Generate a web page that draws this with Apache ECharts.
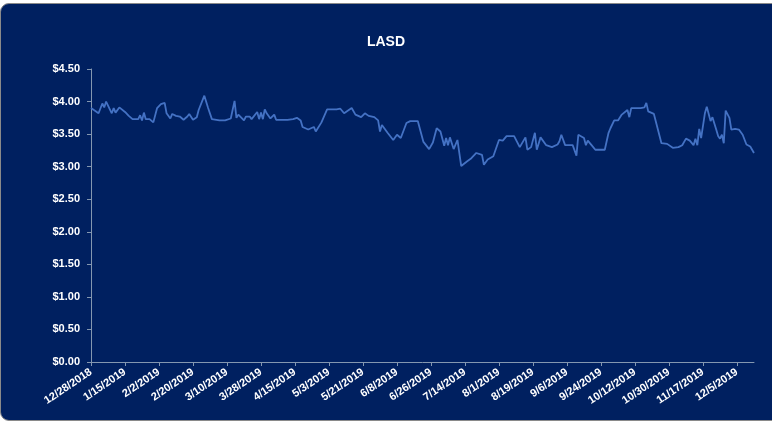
<!DOCTYPE html>
<html>
<head>
<meta charset="utf-8">
<script src="https://cdn.jsdelivr.net/npm/echarts@6/dist/echarts.min.js"></script>
<style>
  html, body { margin: 0; padding: 0; background: #fff; overflow: hidden; }
  .panel { position: absolute; left: 0; top: 3px; width: 790px; height: 418px;
           background: #002060; border: 1px solid #8a8a8a; border-radius: 9px; box-sizing: border-box; }
  #chart { position: absolute; left: 0; top: 0; width: 772px; height: 423px; }
</style>
</head>
<body>
<div class="panel"></div>
<div id="chart"></div>
<script>
// days after 12/28/2018
const startDate = Date.UTC(2018, 11, 28);
const totalDays = 352;
const days = [
  0, 4, 6, 7, 8, 11, 12, 13, 15, 16,
  18, 20, 22, 25, 26, 27, 28, 29, 31, 33,
  35, 37, 39, 40, 41, 42, 43, 45, 47, 48,
  49, 51, 52, 54, 56, 57, 60, 62, 64, 68,
  71, 74, 75, 76, 77, 78, 81, 82, 84, 85,
  88, 89, 90, 91, 92, 93, 95, 97, 98, 104,
  105, 107, 109, 111, 112, 115, 116, 118, 119, 122,
  125, 130, 132, 134, 138, 140, 143, 145, 147, 150,
  152, 153, 154, 157, 160, 162, 164, 167, 169, 173,
  176, 179, 181, 183, 185, 186, 187, 188, 189, 190,
  192, 194, 196, 199, 201, 204, 207, 208, 210, 213,
  216, 218, 220, 224, 227, 228, 230, 231, 233, 235,
  236, 238, 241, 244, 247, 248, 249, 251, 255, 256,
  257, 258, 259, 261, 262, 263, 265, 267, 272, 274,
  275, 277, 279, 281, 284, 285, 286, 291, 293, 294,
  295, 298, 299, 302, 305, 306, 308, 311, 313, 314,
  315, 317, 319, 320, 321, 322, 323, 325, 326, 327,
  328, 329, 331, 332, 333, 334, 335, 336, 338, 339,
  341, 342, 343, 345, 347, 349, 351
];
const prices = [
  3.90, 3.82, 3.97, 3.91, 4.00, 3.82, 3.90, 3.83, 3.91, 3.90,
  3.84, 3.78, 3.73, 3.73, 3.79, 3.71, 3.83, 3.73, 3.73, 3.68,
  3.90, 3.96, 3.98, 3.82, 3.80, 3.74, 3.81, 3.78, 3.77, 3.78,
  3.72, 3.77, 3.81, 3.72, 3.76, 3.87, 4.09, 3.90, 3.73, 3.71,
  3.71, 3.74, 3.75, 4.01, 3.75, 3.80, 3.71, 3.77, 3.77, 3.73,
  3.84, 3.73, 3.83, 3.73, 3.88, 3.82, 3.74, 3.80, 3.72, 3.72,
  3.71, 3.73, 3.75, 3.71, 3.61, 3.57, 3.55, 3.61, 3.54, 3.68,
  3.88, 3.88, 3.89, 3.82, 3.90, 3.80, 3.76, 3.82, 3.78, 3.76,
  3.71, 3.54, 3.64, 3.52, 3.41, 3.49, 3.44, 3.67, 3.70, 3.70,
  3.38, 3.27, 3.37, 3.59, 3.54, 3.51, 3.32, 3.44, 3.33, 3.45,
  3.27, 3.41, 3.01, 3.08, 3.12, 3.21, 3.18, 3.03, 3.11, 3.16,
  3.41, 3.40, 3.47, 3.47, 3.30, 3.29, 3.45, 3.26, 3.30, 3.52,
  3.26, 3.45, 3.33, 3.30, 3.34, 3.39, 3.49, 3.33, 3.33, 3.32,
  3.17, 3.49, 3.51, 3.44, 3.33, 3.40, 3.33, 3.26, 3.26, 3.52,
  3.59, 3.71, 3.71, 3.80, 3.87, 3.76, 3.90, 3.90, 3.91, 3.98,
  3.85, 3.81, 3.78, 3.36, 3.35, 3.37, 3.29, 3.30, 3.33, 3.30,
  3.43, 3.40, 3.33, 3.43, 3.33, 3.58, 3.44, 3.82, 3.92, 3.92,
  3.70, 3.76, 3.57, 3.47, 3.43, 3.49, 3.36, 3.86, 3.75, 3.57,
  3.58, 3.55, 3.57, 3.49, 3.34, 3.31, 3.21
];

// one category per calendar day, labels every 18 days
const dateLabels = [];
for (let i = 0; i < totalDays; i++) {
  const d = new Date(startDate + i * 86400000);
  dateLabels.push((d.getUTCMonth() + 1) + '/' + d.getUTCDate() + '/' + d.getUTCFullYear());
}
const lineData = new Array(totalDays).fill(null);
days.forEach((d, i) => { lineData[d] = prices[i]; });

const font = 'Liberation Sans, Arial, sans-serif';
const axisColor = '#8497b0';

const chart = echarts.init(document.getElementById('chart'));
chart.setOption({
  animation: false,
  title: {
    text: 'LASD',
    left: 'center',
    top: 30,
    textStyle: { color: '#fff', fontSize: 14, fontWeight: 'bold', fontFamily: font }
  },
  grid: { left: 91, right: 18, top: 69, bottom: 61 },
  xAxis: {
    type: 'category',
    data: dateLabels,
    boundaryGap: false,
    axisLine: { lineStyle: { color: axisColor, width: 1 } },
    axisTick: { show: true, interval: 17, length: 4, lineStyle: { color: axisColor } },
    axisLabel: {
      interval: 17,
      rotate: 34,
      margin: 9,
      color: '#fff',
      fontSize: 11,
      fontWeight: 'bold',
      fontFamily: font
    },
    splitLine: { show: false }
  },
  yAxis: {
    type: 'value',
    min: 0,
    max: 4.5,
    interval: 0.5,
    axisLine: { show: true, lineStyle: { color: axisColor, width: 1 } },
    axisTick: { show: true, length: 4, lineStyle: { color: axisColor } },
    axisLabel: {
      margin: 11,
      color: '#fff',
      fontSize: 11,
      fontWeight: 'bold',
      fontFamily: font,
      formatter: v => '$' + v.toFixed(2)
    },
    splitLine: { show: false }
  },
  series: [
    {
      name: 'LASD',
      type: 'line',
      data: lineData,
      connectNulls: true,
      showSymbol: false,
      lineStyle: { color: '#4472C4', width: 1.8 }
    }
  ]
});
</script>
</body>
</html>
